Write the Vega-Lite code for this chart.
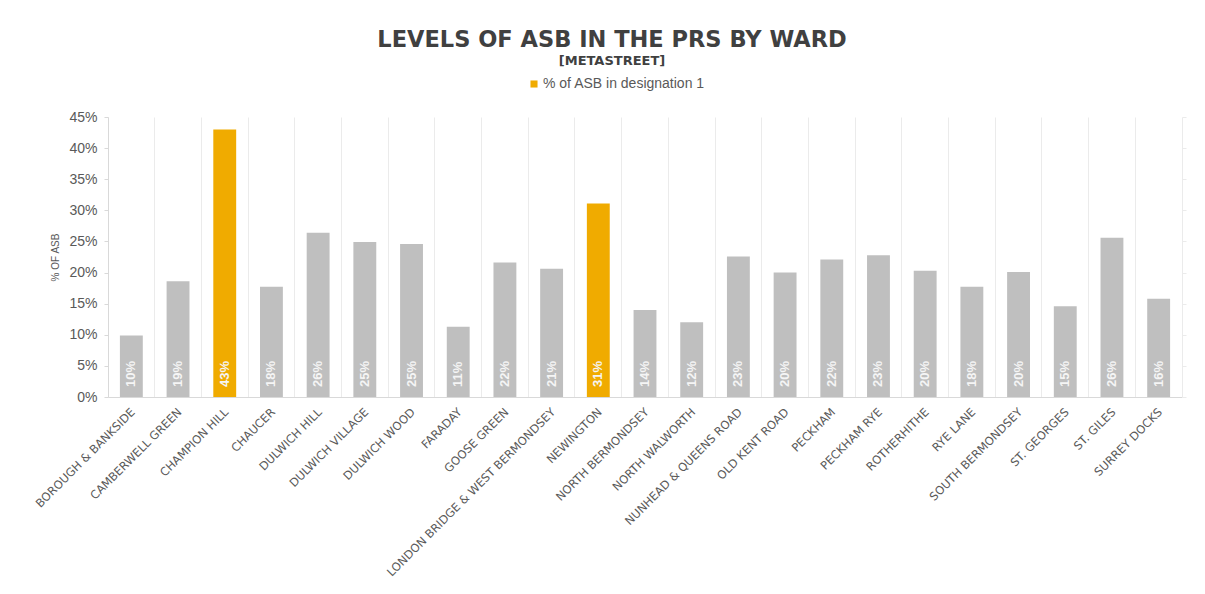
{
  "$schema": "https://vega.github.io/schema/vega-lite/v6.json",
  "width": 1074,
  "height": 280,
  "autosize": {"type": "none"},
  "padding": {"left": 108, "top": 117, "right": 23, "bottom": 197},
  "background": "white",
  "title": {
    "text": "LEVELS OF ASB IN THE PRS BY WARD",
    "subtitle": "[METASTREET]",
    "anchor": "middle",
    "dx": -33,
    "offset": 9,
    "font": "DejaVu Sans",
    "fontSize": 22.5,
    "fontWeight": "bold",
    "color": "#404040",
    "subtitleFont": "DejaVu Sans",
    "subtitleFontSize": 13,
    "subtitleFontWeight": "bold",
    "subtitleColor": "#404040",
    "subtitlePadding": 4
  },
  "data": {
    "values": [
      {"ward": "BOROUGH & BANKSIDE", "value": 0.099, "series": "Other"},
      {"ward": "CAMBERWELL GREEN", "value": 0.186, "series": "Other"},
      {"ward": "CHAMPION HILL", "value": 0.430, "series": "% of ASB in designation 1"},
      {"ward": "CHAUCER", "value": 0.177, "series": "Other"},
      {"ward": "DULWICH HILL", "value": 0.264, "series": "Other"},
      {"ward": "DULWICH VILLAGE", "value": 0.249, "series": "Other"},
      {"ward": "DULWICH WOOD", "value": 0.246, "series": "Other"},
      {"ward": "FARADAY", "value": 0.113, "series": "Other"},
      {"ward": "GOOSE GREEN", "value": 0.216, "series": "Other"},
      {"ward": "LONDON BRIDGE & WEST BERMONDSEY", "value": 0.206, "series": "Other"},
      {"ward": "NEWINGTON", "value": 0.311, "series": "% of ASB in designation 1"},
      {"ward": "NORTH BERMONDSEY", "value": 0.140, "series": "Other"},
      {"ward": "NORTH WALWORTH", "value": 0.120, "series": "Other"},
      {"ward": "NUNHEAD & QUEENS ROAD", "value": 0.226, "series": "Other"},
      {"ward": "OLD KENT ROAD", "value": 0.200, "series": "Other"},
      {"ward": "PECKHAM", "value": 0.221, "series": "Other"},
      {"ward": "PECKHAM RYE", "value": 0.228, "series": "Other"},
      {"ward": "ROTHERHITHE", "value": 0.203, "series": "Other"},
      {"ward": "RYE LANE", "value": 0.177, "series": "Other"},
      {"ward": "SOUTH BERMONDSEY", "value": 0.201, "series": "Other"},
      {"ward": "ST. GEORGES", "value": 0.146, "series": "Other"},
      {"ward": "ST. GILES", "value": 0.256, "series": "Other"},
      {"ward": "SURREY DOCKS", "value": 0.158, "series": "Other"}
    ]
  },
  "layer": [
    {
      "mark": {"type": "bar", "width": {"band": 0.49}},
      "encoding": {
        "x": {
          "field": "ward",
          "type": "nominal",
          "sort": null,
          "scale": {"paddingInner": 0, "paddingOuter": 0},
          "axis": {
            "title": null,
            "labelAngle": -45,
            "labelFont": "DejaVu Sans",
            "labelFontSize": 11.5,
            "labelColor": "#595959",
            "labelPadding": 9,
            "labelOffset": -2,
            "labelLimit": 320,
            "ticks": false,
            "grid": false,
            "domainColor": "#d9d9d9",
            "domainWidth": 1
          }
        },
        "y": {
          "field": "value",
          "type": "quantitative",
          "scale": {"domain": [0, 0.45], "nice": false},
          "axis": {
            "title": "% OF ASB",
            "titleFont": "Liberation Sans",
            "titleFontSize": 10,
            "titleFontWeight": "normal",
            "titleColor": "#595959",
            "titlePadding": 8,
            "format": ".0%",
            "values": [0, 0.05, 0.1, 0.15, 0.2, 0.25, 0.3, 0.35, 0.4, 0.45],
            "labelFont": "Liberation Sans",
            "labelFontSize": 14,
            "labelColor": "#595959",
            "labelPadding": 7,
            "tickSize": 4,
            "tickColor": "#d9d9d9",
            "domainColor": "#d9d9d9",
            "grid": false
          }
        },
        "color": {
          "field": "series",
          "type": "nominal",
          "scale": {"domain": ["% of ASB in designation 1", "Other"], "range": ["#f0ab00", "#bfbfbf"]},
          "legend": {
            "values": ["% of ASB in designation 1"],
            "title": null,
            "orient": "none",
            "legendX": 419,
            "legendY": -40,
            "padding": 0,
            "symbolType": "square",
            "symbolSize": 50,
            "symbolStrokeWidth": 0,
            "labelFont": "Liberation Sans",
            "labelFontSize": 14,
            "labelColor": "#595959",
            "labelOffset": 2,
            "labelLimit": 400
          }
        }
      }
    },
    {
      "mark": {
        "type": "text",
        "angle": 270,
        "align": "left",
        "baseline": "middle",
        "dx": 10,
        "font": "Liberation Sans",
        "fontSize": 13,
        "fontWeight": "bold",
        "color": "#f5f5f5"
      },
      "encoding": {
        "x": {
          "field": "ward",
          "type": "nominal",
          "sort": null,
          "axis": {
            "orient": "bottom",
            "title": null,
            "labels": false,
            "ticks": false,
            "domain": false,
            "grid": true,
            "gridColor": "#ebebeb",
            "gridWidth": 1,
            "bandPosition": 0
          }
        },
        "y": {
          "datum": 0,
          "type": "quantitative",
          "axis": {
            "orient": "right",
            "title": null,
            "labels": false,
            "values": [0, 0.05, 0.1, 0.15, 0.2, 0.25, 0.3, 0.35, 0.4, 0.45],
            "tickSize": 4,
            "tickColor": "#ebebeb",
            "domainColor": "#ebebeb",
            "grid": false
          }
        },
        "text": {"field": "value", "type": "quantitative", "format": ".0%"}
      }
    }
  ],
  "resolve": {"axis": {"x": "independent", "y": "independent"}},
  "config": {"view": {"stroke": null}}
}
